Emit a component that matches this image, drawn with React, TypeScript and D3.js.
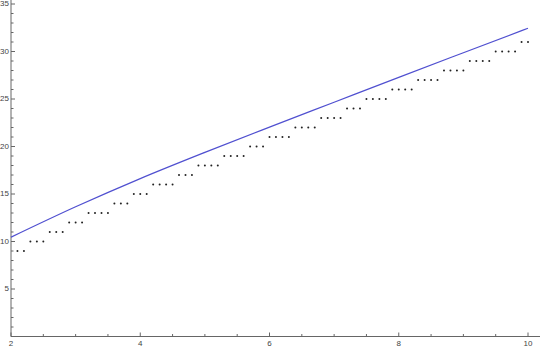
import React from "react";
import * as d3 from "d3";

const dotX = [
  2.1, 2.2, 2.3, 2.4, 2.5, 2.6, 2.7, 2.8, 2.9, 3.0,
  3.1, 3.2, 3.3, 3.4, 3.5, 3.6, 3.7, 3.8, 3.9, 4.0,
  4.1, 4.2, 4.3, 4.4, 4.5, 4.6, 4.7, 4.8, 4.9, 5.0,
  5.1, 5.2, 5.3, 5.4, 5.5, 5.6, 5.7, 5.8, 5.9, 6.0,
  6.1, 6.2, 6.3, 6.4, 6.5, 6.6, 6.7, 6.8, 6.9, 7.0,
  7.1, 7.2, 7.3, 7.4, 7.5, 7.6, 7.7, 7.8, 7.9, 8.0,
  8.1, 8.2, 8.3, 8.4, 8.5, 8.6, 8.7, 8.8, 8.9, 9.0,
  9.1, 9.2, 9.3, 9.4, 9.5, 9.6, 9.7, 9.8, 9.9, 10.0,
];
const dotY = [
  9, 9, 10, 10, 10, 11, 11, 11, 12, 12,
  12, 13, 13, 13, 13, 14, 14, 14, 15, 15,
  15, 16, 16, 16, 16, 17, 17, 17, 18, 18,
  18, 18, 19, 19, 19, 19, 20, 20, 20, 21,
  21, 21, 21, 22, 22, 22, 22, 23, 23, 23,
  23, 24, 24, 24, 25, 25, 25, 25, 26, 26,
  26, 26, 27, 27, 27, 27, 28, 28, 28, 28,
  29, 29, 29, 29, 30, 30, 30, 30, 31, 31,
];
const curveX = [2, 3, 4, 5, 6, 7, 8, 9, 10];
const curveY = [10.45, 13.65, 16.62, 19.38, 22.04, 24.66, 27.28, 29.87, 32.45];
const xTickLabels = [2, 4, 6, 8, 10];
const yTickLabels = [5, 10, 15, 20, 25, 30, 35];

export default function App() {
  const W = 540, H = 347;
  const x = d3.scaleLinear().domain([2, 10]).range([11, 528]);
  const y = d3.scaleLinear().domain([0, 35]).range([336.5, 4]);
  const line = d3
    .line<number>()
    .x((_, i) => x(curveX[i]))
    .y((d) => y(d))
    .curve(d3.curveMonotoneX);
  const xMinor = d3.range(2.5, 10.01, 0.5).filter((v) => Math.abs(v % 2) > 0.01);
  const yMinor = d3.range(1, 35, 1).filter((v) => v % 5 !== 0);
  const axisColor = "#666";
  const font = "'Liberation Sans', Arial, sans-serif";
  const x0 = x(2);
  const y0 = y(0);
  return (
    <svg width={W} height={H} style={{ position: "absolute", left: 0, top: 0, background: "#fff" }}>
      {/* axes */}
      <line x1={x0} y1={y0} x2={W} y2={y0} stroke={axisColor} strokeWidth={1} />
      <line x1={x0} y1={y0} x2={x0} y2={0} stroke={axisColor} strokeWidth={1} />
      {xTickLabels.map((v) => (
        <g key={"xt" + v}>
          <line x1={x(v)} x2={x(v)} y1={y0} y2={y0 - 4} stroke={axisColor} />
          <text x={x(v)} y={344} fontSize={8} fontFamily={font} fill="#444" textAnchor="middle" dominantBaseline="middle">
            {v}
          </text>
        </g>
      ))}
      {xMinor.map((v) => (
        <line key={"xm" + v} x1={x(v)} x2={x(v)} y1={y0} y2={y0 - 2.5} stroke={axisColor} />
      ))}
      {yTickLabels.map((v) => (
        <g key={"yt" + v}>
          <line x1={x0} x2={x0 + 4} y1={y(v)} y2={y(v)} stroke={axisColor} />
          <text x={9} y={y(v)} fontSize={8} fontFamily={font} fill="#444" textAnchor="end" dominantBaseline="middle">
            {v}
          </text>
        </g>
      ))}
      {yMinor.map((v) => (
        <line key={"ym" + v} x1={x0} x2={x0 + 2.5} y1={y(v)} y2={y(v)} stroke={axisColor} />
      ))}
      {/* curve */}
      <path d={line(curveY) || ""} fill="none" stroke="#5050d0" strokeWidth={1.2} />
      {/* dots */}
      {dotX.map((v, i) => (
        <circle key={"d" + i} cx={x(v)} cy={y(dotY[i])} r={1} fill="#222" />
      ))}
    </svg>
  );
}
